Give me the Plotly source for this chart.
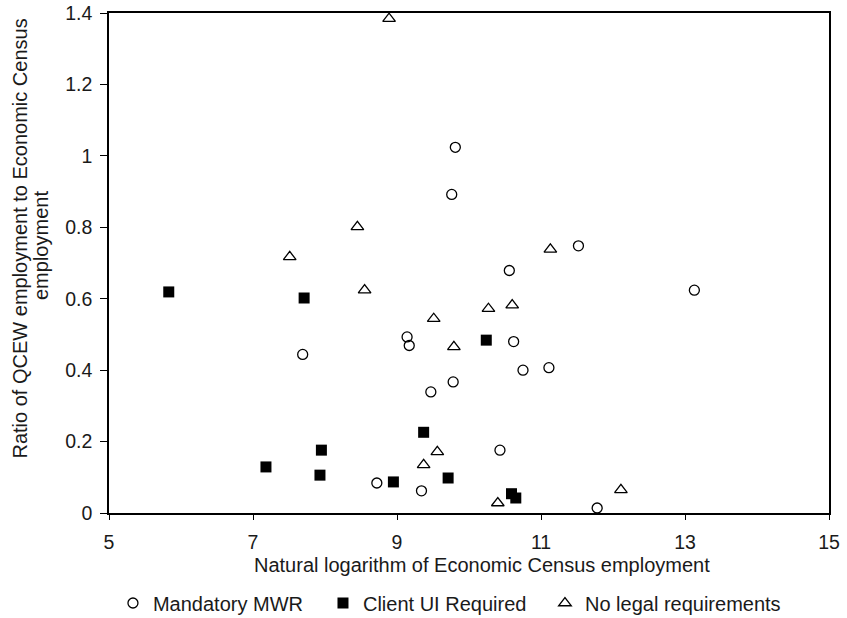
import plotly.graph_objects as go

# Mandatory MWR
mwr_x = [7.69, 9.14, 9.17, 9.81, 9.76, 11.52, 10.56, 13.13, 10.62, 10.75, 11.11, 9.78, 9.47, 10.43, 9.34, 11.78, 8.72]
mwr_y = [0.444, 0.493, 0.469, 1.024, 0.892, 0.748, 0.679, 0.624, 0.480, 0.400, 0.407, 0.367, 0.339, 0.176, 0.062, 0.014, 0.084]

# Client UI Required
ui_x = [5.83, 7.71, 7.18, 7.95, 7.93, 8.95, 9.37, 9.71, 10.24, 10.59, 10.65]
ui_y = [0.619, 0.602, 0.129, 0.176, 0.106, 0.087, 0.226, 0.098, 0.484, 0.054, 0.042]

# No legal requirements
nl_x = [8.89, 8.45, 7.51, 8.55, 11.13, 10.27, 10.60, 9.51, 9.79, 9.56, 9.37, 10.40, 12.11]
nl_y = [1.384, 0.801, 0.717, 0.624, 0.738, 0.572, 0.582, 0.544, 0.465, 0.171, 0.135, 0.028, 0.065]

x_ticks = [5, 7, 9, 11, 13, 15]
y_ticks = [0, 0.2, 0.4, 0.6, 0.8, 1, 1.2, 1.4]
y_tick_labels = ["0", "0.2", "0.4", "0.6", "0.8", "1", "1.2", "1.4"]

x_title = "Natural logarithm of Economic Census employment"
y_title_lines = ["Ratio of QCEW employment to Economic Census", "employment"]

font_family = "Liberation Sans"
txt_color = "#1a1a1a"

fig = go.Figure()
fig.add_trace(go.Scatter(x=mwr_x, y=mwr_y, mode="markers", name="Mandatory MWR", legend="legend",
                         marker=dict(symbol="circle-open", size=10, color="black", line=dict(width=1.3))))
fig.add_trace(go.Scatter(x=ui_x, y=ui_y, mode="markers", name="Client UI Required", legend="legend2",
                         marker=dict(symbol="square", size=11, color="black")))
fig.add_trace(go.Scatter(x=nl_x, y=nl_y, mode="markers", name="No legal requirements", legend="legend3",
                         marker=dict(symbol="triangle-up-open", size=11, color="black", line=dict(width=1.3))))

leg_common = dict(orientation="h", xanchor="left", y=-0.141, yanchor="top",
                  font=dict(size=20, color=txt_color), itemwidth=30, bgcolor="rgba(0,0,0,0)")

fig.update_layout(
    width=847, height=618,
    margin=dict(l=109, r=18, t=13, b=105, autoexpand=False),
    plot_bgcolor="white", paper_bgcolor="white",
    font=dict(family=font_family, size=20, color=txt_color),
    showlegend=True,
    legend=dict(x=0.0055, **leg_common),
    legend2=dict(x=0.2972, **leg_common),
    legend3=dict(x=0.6055, **leg_common),
)
fig.update_xaxes(range=[5, 15], tickvals=x_ticks, showgrid=False, zeroline=False,
                 showline=True, linecolor="black", linewidth=1.5, mirror=True,
                 ticks="outside", ticklen=5, tickcolor="black", tickwidth=1.2,
                 tickfont=dict(size=19.5), ticklabelstandoff=6, automargin=False)
fig.update_yaxes(range=[0, 1.4], tickvals=y_ticks, ticktext=y_tick_labels, showgrid=False, zeroline=False,
                 showline=True, linecolor="black", linewidth=1.5, mirror=True,
                 ticks="outside", ticklen=7, tickcolor="black", tickwidth=1.2,
                 tickfont=dict(size=19.5), ticklabelstandoff=4, automargin=False)

# axis titles
fig.add_annotation(text=x_title, xref="paper", yref="paper", x=0.5, y=-0.104,
                   xshift=13, xanchor="center", yanchor="middle", showarrow=False,
                   font=dict(size=20, color=txt_color))
fig.add_annotation(text=y_title_lines[0], xref="paper", yref="paper", x=0, y=0.549,
                   xshift=-89, xanchor="center", yanchor="middle", textangle=-90, showarrow=False,
                   font=dict(size=20, color=txt_color))
fig.add_annotation(text=y_title_lines[1], xref="paper", yref="paper", x=0, y=0.534,
                   xshift=-68, xanchor="center", yanchor="middle", textangle=-90, showarrow=False,
                   font=dict(size=20, color=txt_color))

fig.write_html("out.html", config={"displayModeBar": False},
               post_script="document.body.style.margin='0';")
